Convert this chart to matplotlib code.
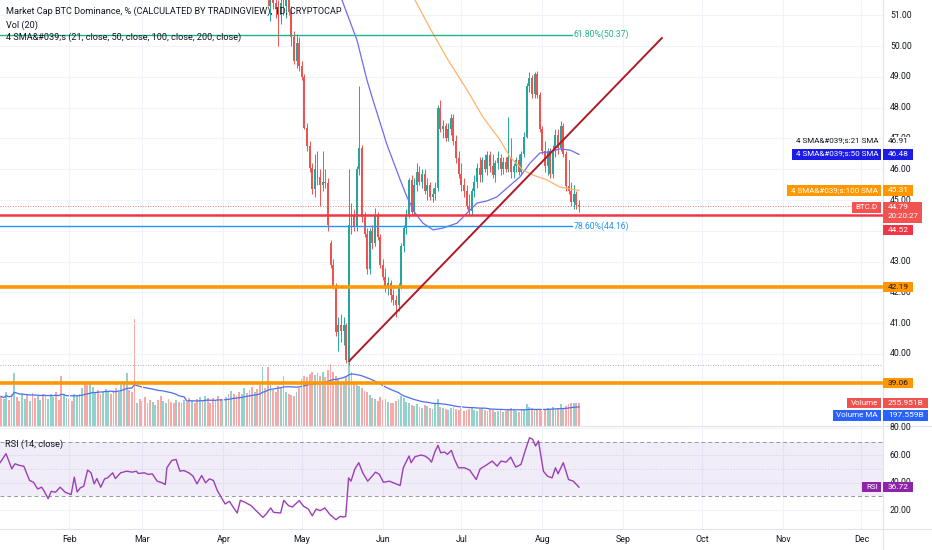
import numpy as np
import pandas as pd
import matplotlib
matplotlib.use('Agg')
import matplotlib.pyplot as plt
from matplotlib.patches import Rectangle
from matplotlib.lines import Line2D

plt.rcParams['font.family'] = ['Roboto', 'DejaVu Sans']

# ---------------- data ----------------
origin = pd.Timestamp('2021-01-01')
candle_start = '2021-04-11'
opens = [52.6, 52.4, 52.1, 52.3, 52.0, 51.9, 52.1, 51.8, 51.3, 51.6,
         51.4, 51.2, 51.0, 51.4, 51.3, 51.5, 51.1, 50.3, 49.5, 50.1,
         49.35, 49.0, 47.35, 46.75, 46.05, 45.35, 46.0, 45.75, 45.5, 45.6,
         45.55, 43.6, 42.9, 42.2, 40.7, 40.95, 40.75, 40.95, 39.8, 44.2,
         44.5, 44.15, 46.0, 46.7, 44.45, 43.9, 42.75, 44.0, 43.6, 44.5,
         43.8, 42.9, 42.5, 42.2, 42.3, 41.9, 41.75, 41.6, 42.2, 43.5,
         44.1, 44.5, 45.65, 44.6, 45.5, 45.9, 45.6, 45.85, 45.3, 45.5,
         45.1, 45.2, 45.4, 48.0, 47.3, 47.4, 47.0, 47.3, 47.65, 46.9,
         46.35, 45.85, 45.5, 45.3, 44.8, 44.65, 45.3, 45.6, 46.05, 45.8,
         46.3, 46.0, 46.45, 46.1, 45.8, 46.2, 46.35, 46.0, 46.25, 46.0,
         46.4, 45.9, 46.1, 46.3, 45.9, 46.5, 47.05, 48.7, 48.95, 48.45,
         49.1, 48.4, 47.3, 46.6, 46.1, 46.6, 45.85, 46.6, 47.1, 46.7,
         47.4, 46.5, 45.45, 45.3, 44.95, 45.2, 44.85]
highs = [52.9, 52.7, 52.5, 52.6, 52.4, 52.3, 52.4, 52.0, 51.8, 51.9,
         51.7, 51.5, 51.6, 51.8, 51.7, 51.8, 51.3, 50.5, 50.4, 50.3,
         49.5, 49.1, 47.5, 46.9, 46.2, 46.5, 46.6, 46.0, 46.6, 46.0,
         45.7, 43.7, 43.1, 42.3, 41.2, 41.3, 41.2, 41.0, 46.0, 44.9,
         44.7, 46.1, 48.7, 46.8, 44.6, 44.1, 44.1, 44.2, 44.75, 44.6,
         43.9, 43.1, 42.8, 42.5, 42.4, 42.1, 41.9, 42.3, 43.6, 44.2,
         44.7, 45.7, 45.8, 45.7, 46.2, 46.1, 46.0, 46.0, 45.7, 45.6,
         45.4, 45.6, 48.1, 48.25, 47.6, 47.5, 47.5, 47.8, 47.8, 47.1,
         46.6, 46.2, 45.7, 45.5, 45.2, 45.4, 45.8, 46.2, 46.4, 46.4,
         46.5, 46.6, 46.6, 46.5, 46.3, 46.6, 46.5, 46.4, 46.4, 47.7,
         47.0, 46.2, 46.4, 46.5, 46.6, 47.2, 48.8, 49.15, 49.05, 49.15,
         49.2, 48.5, 47.4, 46.9, 46.7, 46.7, 46.8, 47.3, 47.3, 47.55,
         47.5, 46.6, 46.3, 45.6, 45.5, 45.3, 45.0]
lows = [52.2, 52.0, 51.8, 51.9, 51.7, 51.6, 51.7, 51.3, 50.8, 51.2,
        50.9, 50.0, 50.7, 51.0, 50.9, 51.0, 50.0, 49.4, 49.3, 49.2,
        48.9, 47.3, 46.6, 45.9, 45.2, 45.1, 45.5, 44.8, 45.3, 45.4,
        44.0, 42.8, 42.1, 40.6, 40.1, 40.4, 40.3, 39.7, 39.65, 43.9,
        44.0, 44.0, 45.8, 44.3, 43.8, 42.6, 42.6, 43.4, 43.5, 43.7,
        42.8, 42.4, 42.0, 41.9, 41.7, 41.6, 41.2, 41.4, 42.1, 43.3,
        43.9, 44.4, 44.5, 44.5, 45.3, 45.5, 45.4, 45.2, 45.0, 45.0,
        44.95, 45.0, 45.3, 47.2, 47.0, 46.9, 46.9, 47.1, 46.8, 46.2,
        45.7, 45.3, 45.1, 44.7, 44.5, 44.5, 45.1, 45.4, 45.6, 45.6,
        45.9, 45.8, 45.9, 45.7, 45.6, 46.0, 45.8, 45.85, 45.9, 45.9,
        45.7, 45.7, 45.9, 45.8, 45.8, 46.4, 47.0, 48.5, 48.3, 48.3,
        48.3, 47.2, 46.5, 45.9, 45.8, 45.7, 45.7, 46.4, 46.5, 46.6,
        46.4, 45.3, 45.2, 44.8, 44.7, 44.7, 44.6]
closes = [52.4, 52.1, 52.3, 52.0, 51.9, 52.1, 51.8, 51.5, 51.6, 51.4,
          51.2, 51.0, 51.4, 51.3, 51.5, 51.1, 50.3, 49.5, 50.1, 49.35,
          49.0, 47.35, 46.75, 46.05, 45.35, 46.0, 45.75, 45.5, 45.6, 45.55,
          44.2, 42.9, 42.2, 40.7, 40.95, 40.75, 40.95, 39.8, 44.2, 44.5,
          44.15, 46.0, 46.7, 44.45, 43.9, 42.75, 44.0, 43.6, 44.5, 43.8,
          42.9, 42.5, 42.2, 42.3, 41.9, 41.75, 41.6, 42.2, 43.5, 44.1,
          44.5, 45.65, 44.6, 45.5, 45.9, 45.6, 45.85, 45.3, 45.5, 45.1,
          45.2, 45.4, 48.0, 47.3, 47.4, 47.0, 47.3, 47.65, 46.9, 46.35,
          45.85, 45.5, 45.3, 44.8, 44.65, 45.3, 45.6, 46.05, 45.8, 46.3,
          46.0, 46.45, 46.1, 45.8, 46.2, 46.35, 46.0, 46.25, 46.0, 46.4,
          45.9, 46.1, 46.3, 45.9, 46.5, 47.05, 48.7, 48.95, 48.45, 49.1,
          48.4, 47.3, 46.6, 46.1, 46.6, 45.85, 46.6, 47.1, 46.7, 47.4,
          46.5, 45.45, 45.3, 44.95, 45.2, 44.85, 44.79]

vol_start = '2021-01-06'
volumes = [330, 300, 380, 290, 350, 590, 320, 280, 360, 300,
           340, 280, 370, 310, 330, 290, 360, 330, 300, 350,
           320, 380, 290, 560, 340, 310, 300, 280, 350, 330,
           360, 420, 480, 450, 470, 430, 380, 400, 350, 380,
           410, 390, 360, 400, 420, 380, 450, 470, 590, 400,
           380, 1190, 260, 300, 280, 320, 250, 290, 270, 230,
           290, 330, 280, 260, 300, 270, 250, 290, 270, 260,
           290, 270, 310, 280, 260, 300, 320, 280, 330, 310,
           260, 310, 290, 330, 300, 280, 320, 350, 390, 360,
           330, 380, 350, 420, 370, 400, 430, 380, 410, 450,
           650, 420, 650, 480, 400, 380, 440, 420, 560, 380,
           350, 340, 330, 380, 420, 520, 560, 540, 580, 600,
           570, 590, 560, 600, 540, 620, 690, 600, 560, 520,
           480, 500, 560, 760, 600, 470, 450, 440, 420, 390,
           380, 340, 310, 300, 280, 320, 290, 300, 270, 260,
           250, 280, 300, 330, 310, 270, 250, 230, 220, 240,
           210, 200, 230, 220, 200, 190, 240, 300, 210, 200,
           190, 180, 200, 210, 190, 180, 200, 170, 180, 190,
           200, 180, 170, 190, 200, 180, 170, 190, 180, 160,
           170, 180, 160, 170, 190, 200, 180, 170, 160, 190,
           190, 240, 210, 200, 180, 190, 175, 170, 185, 200,
           190, 210, 185, 200, 240, 205, 225, 240, 255, 255,
           256, 256]
# direction of the days before the candles become visible (u = up, d = down)
vol_dir_early = ("duuddudduu" "dudduudduu" "uddduudduu" "uudduuuddu" "uuddduudud"
                 "ddududdduu" "dduudddudd" "udduddudud" "ddudduudud" "dduud")

sma50_days = [134.0, 141.1, 144.9, 147.2, 152.6, 157.2, 160.2, 163.3, 166.3, 170.2, 174.0,
              179.4, 183.2, 187.0, 190.8, 194.6, 198.5, 203.4, 207.3, 211.1, 214.9, 218.7,
              222.6, 226.0]
sma50_vals = [51.8, 50.19, 48.9, 48.25, 46.79, 45.75, 45.1, 44.58, 44.25, 44.03, 44.09,
              44.25, 44.58, 44.9, 44.97, 45.1, 45.39, 45.75, 46.2, 46.53, 46.56, 46.66,
              46.62, 46.48]
sma100_days = [161.5, 169.0, 175.9, 183.2, 189.3, 195.8, 199.6, 204.6, 208.4, 213.8, 218.7, 226.0]
sma100_vals = [51.78, 50.58, 49.55, 48.57, 47.69, 46.95, 46.4, 45.97, 45.81, 45.65, 45.42, 45.31]

rsi_days = [4.6, 6.9, 9.1, 10.3, 12.1, 13.7, 15.9, 17.4, 19.0, 20.5, 21.5, 23.0, 24.2, 25.8,
            27.6, 29.5, 31.8, 33.0, 34.1, 35.3, 36.6, 38.1, 39.4, 40.6, 41.6, 43.1, 44.6,
            45.7, 47.7, 48.7, 50.7, 53.0, 55.2, 56.7, 57.5, 59.8, 61.3, 62.8, 64.7, 66.6,
            67.8, 68.4, 70.3, 71.9, 73.4, 74.9, 76.8, 78.4, 79.9, 81.7, 83.2, 84.7, 86.2,
            87.7, 89.2, 90.7, 92.3, 93.8, 95.3, 96.5, 98.3, 100.6, 102.8, 105.1, 106.2,
            108.1, 109.2, 111.9, 113.1, 114.9, 116.4, 119.0, 120.7, 122.5, 124.0, 125.5,
            127.0, 128.8, 130.8, 133.1, 134.6, 135.8, 136.8, 137.9, 138.8, 140.3, 141.8,
            143.3, 145.2, 146.7, 148.2, 149.7, 151.2, 153.5, 155.7, 157.6, 158.8, 161.0,
            161.8, 163.3, 165.6, 167.1, 168.6, 169.6, 170.9, 172.1, 173.1, 174.6, 175.7,
            177.2, 178.4, 179.9, 182.2, 184.2, 186.7, 188.2, 190.5, 192.8, 194.7, 196.2,
            198.1, 199.9, 201.8, 203.8, 205.6, 207.1, 208.3, 209.4, 210.5, 212.4, 213.9,
            215.7, 217.0, 218.0, 220.0, 222.0, 223.8, 226.0]
rsi_vals = [54.6, 61.2, 50.1, 53.8, 52.6, 52.0, 41.6, 40.3, 35.4, 36.7, 33.7, 28.3, 33.7, 33.0,
            36.7, 33.0, 31.3, 44.0, 33.2, 36.2, 37.4, 49.2, 47.2, 39.1, 43.0, 36.7, 42.8,
            43.5, 47.2, 43.0, 47.2, 48.4, 47.7, 48.4, 46.7, 47.2, 46.0, 46.5, 41.1, 39.9,
            38.6, 50.9, 56.3, 57.0, 48.4, 48.9, 47.2, 44.8, 39.1, 45.2, 39.9, 42.8, 41.6,
            34.2, 29.3, 24.4, 26.4, 22.0, 17.8, 27.1, 25.6, 23.2, 19.0, 14.6, 16.6,
            21.5, 18.3, 17.8, 27.1, 23.2, 22.2, 26.9, 22.7, 20.7, 15.8, 20.7,
            19.5, 21.5, 16.6, 12.9, 15.3, 14.9, 15.3, 43.5, 41.1, 50.1, 54.6,
            47.2, 41.1, 44.3, 47.7, 46.0, 40.3, 41.1, 39.4, 37.9, 50.9, 59.5,
            54.6, 59.0, 60.2, 59.5, 57.5, 55.0, 62.6, 67.3, 61.9, 62.4, 60.7,
            63.6, 57.0, 50.9, 50.9, 49.2, 42.3, 50.1, 52.8, 55.8, 52.1, 55.8,
            55.0, 58.7, 51.4, 53.3, 64.4, 72.9, 71.7, 66.8, 70.5, 48.4, 44.8,
            43.5, 50.9, 46.5, 54.6, 42.3, 41.1, 36.72]

trend_days = [138.1, 257.7]
trend_vals = [39.77, 50.26]
fib_levels = [50.37, 44.16]
fib_names = ['61.80%(50.37)', '78.60%(44.16)']
fib_end_day = 223.3
red_level = 44.52
orange_levels = [42.19, 39.06]
low_ref_level = 39.64
sma21_last, sma50_last, sma100_last = 46.91, 46.48, 45.31
last_price = 44.79
countdown = '20:20:27'
vol_last, volma_last = '255.951B', '197.559B'
vol_last_val = 255.951
rsi_last = 36.72
price_ticks = [51, 50, 49, 48, 47, 46, 45, 43, 42, 41, 40]
grid_prices = [51, 50, 49, 48, 47, 46, 45, 44, 43, 42, 41, 40]
rsi_ticks = [80, 60, 40, 20]
month_labels = ['Feb', 'Mar', 'Apr', 'May', 'Jun', 'Jul', 'Aug', 'Sep', 'Oct', 'Nov', 'Dec']

# ---------------- layout ----------------
W, H = 932, 550
AXR = 883
PANE_SPLIT = 426
PANE_BOTTOM = 529
TXT = '#131722'
GRID = '#f0f3fa'
UP, DN = '#26a69a', '#ef5350'
UPV, DNV = '#92d2cc', '#f7a9a7'

fig = plt.figure(figsize=(W / 100, H / 100), dpi=100)
fig.patch.set_facecolor('white')
ax = fig.add_axes([0, 1 - PANE_SPLIT / H, AXR / W, PANE_SPLIT / H])
vax = ax.twinx()
rax = fig.add_axes([0, 1 - PANE_BOTTOM / H, AXR / W, (PANE_BOTTOM - PANE_SPLIT) / H])
vax.set_zorder(1)
ax.set_zorder(2)
ax.patch.set_visible(False)
for a in (ax, vax, rax):
    a.set_xticks([])
    a.set_yticks([])
    for s in a.spines.values():
        s.set_visible(False)

px_per_day = 2.615
x_lo, x_hi = 12 / px_per_day, (AXR + 12) / px_per_day
for a in (ax, vax, rax):
    a.set_xlim(x_lo, x_hi)
ax.set_ylim(37.662, 51.494)
vax.set_ylim(0, PANE_SPLIT * 11.1)
rax.set_ylim(6.1, 81.46)

def ypx(a, v):
    return H - a.transData.transform((0, v))[1]

def xpx(a, d):
    return a.transData.transform((d, 0))[0]

# grid
for p in grid_prices:
    ax.axhline(p, color=GRID, lw=0.8, zorder=0)
month_days = [(pd.Timestamp(f'2021-{m:02d}-01') - origin).days for m in range(2, 13)]
for md in month_days:
    ax.axvline(md, color=GRID, lw=0.8, zorder=0)
    rax.axvline(md, color=GRID, lw=0.8, zorder=0)
for r in rsi_ticks:
    rax.axhline(r, color=GRID, lw=0.8, zorder=0)

# candles
cd = np.array([(d - origin).days for d in pd.date_range(candle_start, periods=len(opens))])
o, h, l, c = map(np.array, (opens, highs, lows, closes))
up = c >= o
cols = np.where(up, UP, DN)
ax.vlines(cd, l, h, colors=cols, lw=0.7, zorder=4)
ax.bar(cd, np.maximum(np.abs(c - o), 0.04), bottom=np.minimum(o, c), width=0.75,
       color=cols, linewidth=0, zorder=5)

# volume
vd = np.array([(d - origin).days for d in pd.date_range(vol_start, periods=len(volumes))])
vol = np.array(volumes, dtype=float)
dir_map = {int(d): bool(u) for d, u in zip(cd, up)}
vcols = []
for i, d in enumerate(vd):
    if d in dir_map:
        vcols.append(UPV if dir_map[d] else DNV)
    else:
        vcols.append(UPV if vol_dir_early[i] == 'u' else DNV)
vax.bar(vd, vol, width=0.7, color=vcols, linewidth=0, zorder=2)
vol_ma = pd.Series(vol).rolling(20, min_periods=1).mean()
vax.plot(vd, vol_ma, color='#4c6ef0', lw=0.9, zorder=3)

# moving averages
ax.plot(sma50_days, sma50_vals, color='#6b6cf2', lw=0.9, zorder=6)
ax.plot(sma100_days, sma100_vals, color='#ffb36b', lw=0.9, zorder=6)

# horizontal levels
ax.axhline(low_ref_level, color='#9598a1', lw=0.6, ls=(0, (1, 2)), zorder=3)
ax.axhline(last_price, color='#ef5350', lw=0.6, ls=(0, (1, 2)), zorder=3)
ax.axhline(red_level, color='#f23645', lw=1.8, zorder=7)
for lv in orange_levels:
    ax.axhline(lv, color='#ff9800', lw=2.6, zorder=7)
fib_cols = ['#22b38a', '#2196f3']
for lv, nm, fc in zip(fib_levels, fib_names, fib_cols):
    ax.plot([x_lo, fib_end_day], [lv, lv], color=fc, lw=1.0, zorder=7)
    fig.text((xpx(ax, fib_end_day) + 2) / W, 1 - ypx(ax, lv) / H, nm, color=fc,
             fontsize=6.2, va='center', ha='left', zorder=8)

# trend line
ax.plot(trend_days, trend_vals, color='#b01a28', lw=1.4, zorder=8)

# RSI
rax.axhspan(30, 70, color='#7e57c2', alpha=0.11, lw=0, zorder=1)
rax.axhline(70, color='#9598a1', lw=0.7, ls=(0, (4, 3)), zorder=2)
rax.axhline(30, color='#9598a1', lw=0.7, ls=(0, (4, 3)), zorder=2)
rax.axhline(50, color='#b9aed6', lw=0.5, ls=(0, (1, 3)), zorder=2)
rax.plot(rsi_days, rsi_vals, color='#9b3fb5', lw=1.0, zorder=3)

# separators
fig.add_artist(Line2D([AXR / W, AXR / W], [0, 1], transform=fig.transFigure, color='#e0e3eb', lw=0.8, zorder=3))
for yy in (PANE_SPLIT, PANE_BOTTOM):
    fig.add_artist(Line2D([0, 1], [1 - yy / H, 1 - yy / H], transform=fig.transFigure,
                          color='#e0e3eb', lw=0.8, zorder=3))

# texts top-left
fig.text(6 / W, 1 - 11 / H, 'Market Cap BTC Dominance, % (CALCULATED BY TRADINGVIEW), 1D, CRYPTOCAP',
         fontsize=6.6, color=TXT, va='center', zorder=9)
fig.text(6 / W, 1 - 25 / H, 'Vol (20)', fontsize=6.6, color=TXT, va='center', zorder=9)
fig.text(6 / W, 1 - 37 / H, '4 SMA&#039;s (21, close, 50, close, 100, close, 200, close)',
         fontsize=6.6, color=TXT, va='center', zorder=9)
fig.text(5 / W, 1 - 444 / H, 'RSI (14, close)', fontsize=6.6, color=TXT, va='center', zorder=9)

# axis labels
for p in price_ticks:
    fig.text(890 / W, 1 - ypx(ax, p) / H, f'{p:.2f}', fontsize=6.2, color=TXT, va='center', zorder=4)
for r in rsi_ticks:
    fig.text(890 / W, 1 - ypx(rax, r) / H, f'{r:.2f}', fontsize=6.2, color=TXT, va='center', zorder=4)
for md, ml in zip(month_days, month_labels):
    fig.text(xpx(ax, md) / W, 1 - 540 / H, ml, fontsize=6.4, color=TXT, va='center', ha='center', zorder=4)

renderer = fig.canvas.get_renderer()

def box(x0, x1, yc, hh, fc):
    fig.add_artist(Rectangle((x0 / W, 1 - (yc + hh / 2) / H), (x1 - x0) / W, hh / H,
                             transform=fig.transFigure, facecolor=fc, edgecolor='none', zorder=10))

def lab(x, yc, s, color, ha='left', fs=6.0):
    return fig.text(x / W, 1 - yc / H, s, color=color, fontsize=fs, ha=ha, va='center', zorder=11)

def left_box(yc, s, fc, tc, hh):
    t = lab(878, yc, s, tc, 'right', fs=5.8)
    ext = t.get_window_extent(renderer)
    if fc is not None:
        box(ext.x0 - 4, 881, yc, hh, fc)

def value_box(yc, s, fc, tc, hh):
    t = lab(888, yc, s, tc, 'left', fs=6.0)
    ext = t.get_window_extent(renderer)
    if fc is not None:
        box(883, ext.x1 + 4, yc, hh, fc)
    return ext

y = ypx(ax, sma21_last)
box(884, 916, y, 8, 'white')
left_box(y, '4 SMA&#039;s:21 SMA', None, TXT, 11)
value_box(y, f'{sma21_last:.2f}', None, TXT, 11)

y = ypx(ax, sma50_last)
left_box(y, '4 SMA&#039;s:50 SMA', '#1c1ce6', 'white', 11)
value_box(y, f'{sma50_last:.2f}', '#1c1ce6', 'white', 11)

y = ypx(ax, sma100_last)
left_box(y, '4 SMA&#039;s:100 SMA', '#ff9800', 'white', 11)
value_box(y, f'{sma100_last:.2f}', '#ff9800', 'white', 11)

y = ypx(ax, last_price)
left_box(y + 1, 'BTC.D', '#f05350', 'white', 11)
t2 = lab(888, y + 10, countdown, 'white', fs=5.8)
e2 = t2.get_window_extent(renderer)
box(883, e2.x1 + 3, y + 6, 21, '#f05350')
lab(888, y + 1, f'{last_price:.2f}', 'white', fs=6.0)

y = ypx(ax, red_level) + 15
value_box(y, f'{red_level:.2f}', '#f23645', 'white', 10)

for lv in orange_levels:
    y = ypx(ax, lv)
    value_box(y, f'{lv:.2f}', '#ff9800', TXT, 10)

y = ypx(vax, vol_last_val)
left_box(y, 'Volume', '#ef5350', 'white', 10)
value_box(y, vol_last, '#ef5350', 'white', 10)
y = y + 12.5
left_box(y, 'Volume MA', '#2962ff', 'white', 11)
value_box(y, volma_last, '#2962ff', 'white', 11)

y = ypx(rax, rsi_last)
left_box(y, 'RSI', '#8e24aa', 'white', 10)
value_box(y, f'{rsi_last:.2f}', '#8e24aa', 'white', 10)

fig.savefig('out.png', dpi=100, facecolor='white')
